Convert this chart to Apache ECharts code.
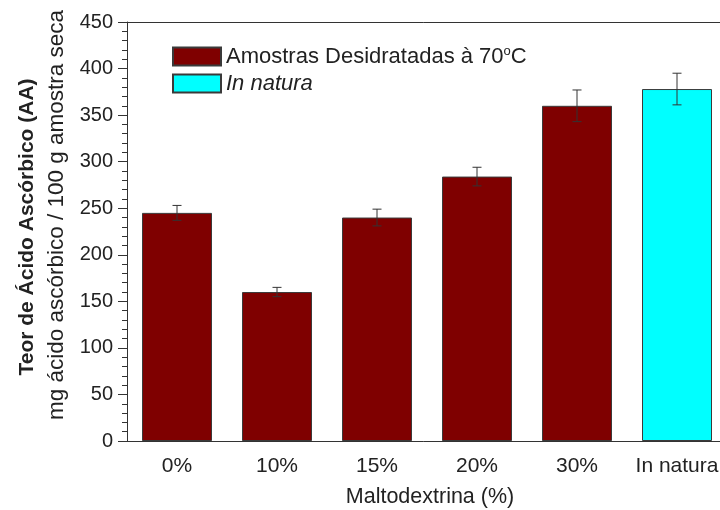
<!DOCTYPE html>
<html>
<head>
<meta charset="utf-8">
<script src="https://cdn.jsdelivr.net/npm/echarts@6/dist/echarts.min.js"></script>
<style>html,body{margin:0;padding:0;background:#fff;}#c{width:720px;height:510px;}</style>
</head>
<body>
<div id="c"></div>
<script>
var categories = ['0%', '10%', '15%', '20%', '30%', 'In natura'];
var driedValues = [245, 160, 240, 284, 360, null];
var naturaValues = [null, null, null, null, null, 378];
var errors = [8, 5, 9, 10, 17, 17];
var yTicks = [0, 50, 100, 150, 200, 250, 300, 350, 400, 450];

var allValues = driedValues.map(function (v, i) { return v != null ? v : naturaValues[i]; });
var errData = allValues.map(function (v, i) { return [i, v - errors[i], v + errors[i]]; });

var chart = echarts.init(document.getElementById('c'), null, {renderer: 'canvas'});
var font = 'Liberation Sans, Arial, sans-serif';
chart.setOption({
  animation: false,
  backgroundColor: '#fff',
  textStyle: {fontFamily: font},
  grid: {left: 127, top: 22, width: 600, height: 419, containLabel: false, outerBoundsMode: 'none'},
  legend: {
    left: 167, top: 40, orient: 'vertical', itemWidth: 48, itemHeight: 18, itemGap: 5,
    icon: 'rect',
    textStyle: {fontFamily: font, fontSize: 22, color: '#222',
      rich: {
        a: {fontFamily: font, fontSize: 22, color: '#222'},
        sup: {fontFamily: font, fontSize: 13, color: '#222', verticalAlign: 'top', padding: [0, 0, 10, 0]},
        it: {fontFamily: font, fontSize: 22, color: '#222', fontStyle: 'italic'}
      }},
    formatter: function (name) {
      if (name === 'In natura') return '{it|In natura}';
      return '{a|Amostras Desidratadas à 70}{sup|o}{a|C}';
    },
    data: ['Amostras Desidratadas à 70°C', 'In natura']
  },
  xAxis: [{
    type: 'category', data: categories, position: 'bottom',
    axisLine: {lineStyle: {color: '#333', width: 1}},
    axisTick: {alignWithLabel: true, length: 6, lineStyle: {color: '#333'}},
    axisLabel: {fontSize: 21, color: '#222', margin: 15, fontFamily: font, interval: 0},
    name: 'Maltodextrina (%)', nameLocation: 'middle', nameGap: 45,
    nameTextStyle: {fontSize: 21.5, color: '#222', fontFamily: font, padding: [0, 0, 0, 6]}
  }, {
    type: 'category', data: categories, position: 'top',
    axisLine: {show: true, lineStyle: {color: '#333', width: 1}},
    axisTick: {show: false}, axisLabel: {show: false}
  }],
  yAxis: {
    type: 'value', min: 0, max: 450, interval: 50,
    axisLine: {show: true, lineStyle: {color: '#333', width: 1}},
    axisTick: {show: true, length: 9, lineStyle: {color: '#333'}},
    minorTick: {show: true, splitNumber: 5, length: 5, lineStyle: {color: '#333'}},
    splitLine: {show: false},
    axisLabel: {fontSize: 20, color: '#222', margin: 14, fontFamily: font,
      formatter: function (v) { return yTicks.indexOf(v) >= 0 ? String(v) : ''; }}
  },
  graphic: [
    {type: 'text', x: 27, y: 227, rotation: Math.PI / 2,
      style: {text: 'Teor de Ácido Ascórbico (AA)', fontFamily: font, fontSize: 21, fontWeight: 'bold', fill: '#222', align: 'center', verticalAlign: 'middle'}},
    {type: 'text', x: 57, y: 215, rotation: Math.PI / 2,
      style: {text: 'mg ácido ascórbico / 100 g amostra seca', fontFamily: font, fontSize: 22.5, fill: '#222', align: 'center', verticalAlign: 'middle'}}
  ],
  series: [
    {name: 'Amostras Desidratadas à 70°C', type: 'bar', data: driedValues, barWidth: 70, barGap: '-100%',
      itemStyle: {color: '#7f0000', borderColor: '#3a3a3a', borderWidth: 1}},
    {name: 'In natura', type: 'bar', data: naturaValues, barWidth: 70, barGap: '-100%',
      itemStyle: {color: '#00ffff', borderColor: '#3a3a3a', borderWidth: 1}},
    {name: 'err', type: 'custom', z: 10, data: errData,
      renderItem: function (params, api) {
        var x = api.value(0);
        var lo = api.coord([x, api.value(1)]);
        var hi = api.coord([x, api.value(2)]);
        var w = 4.5;
        var st = {stroke: '#333', lineWidth: 1};
        return {type: 'group', children: [
          {type: 'line', shape: {x1: lo[0], y1: lo[1], x2: hi[0], y2: hi[1]}, style: st},
          {type: 'line', shape: {x1: lo[0] - w, y1: lo[1], x2: lo[0] + w, y2: lo[1]}, style: st},
          {type: 'line', shape: {x1: hi[0] - w, y1: hi[1], x2: hi[0] + w, y2: hi[1]}, style: st}
        ]};
      }}
  ]
});
</script>
</body>
</html>
